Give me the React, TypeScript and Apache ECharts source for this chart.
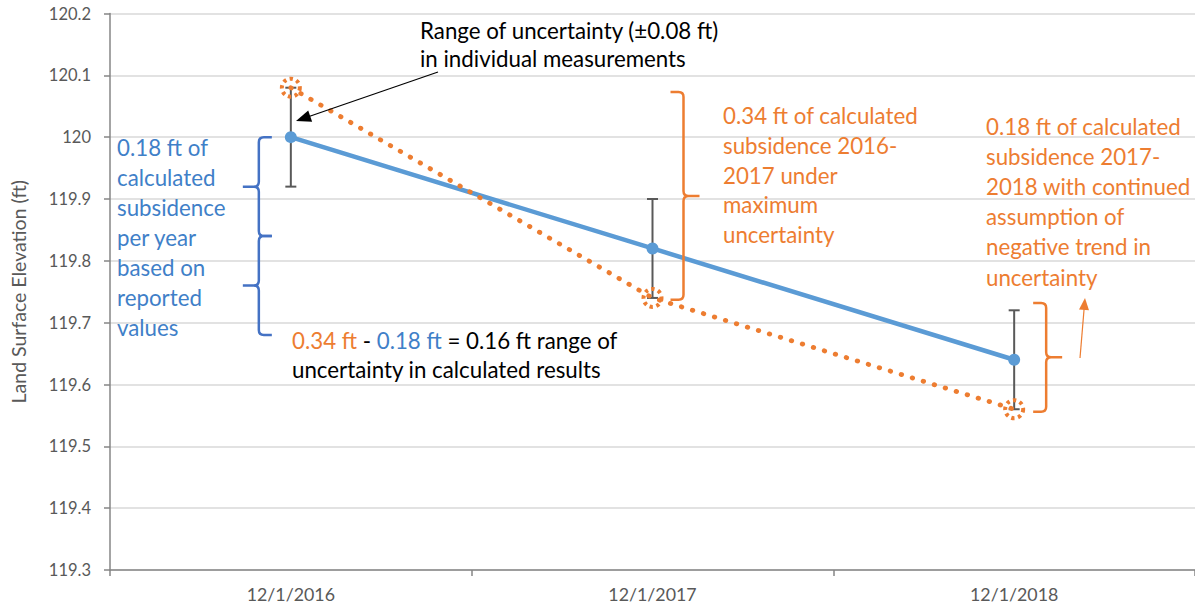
import React, { useEffect, useRef } from "react";
import * as echarts from "echarts";

// ---- data ----
const categories = ["12/1/2016", "12/1/2017", "12/1/2018"];
const reportedValues = [120.0, 119.82, 119.64];
const maxUncertaintyValues = [120.08, 119.74, 119.56];
const errorLow = [119.92, 119.74, 119.56];
const errorHigh = [120.08, 119.9, 119.72];
const yMin = 119.3;
const yMax = 120.2;
const yInterval = 0.1;

// brace annotations: [category index, from value, to value]
const braceCats = [0, 0, 1, 2];
const braceFrom = [120.0, 119.84, 120.073, 119.732];
const braceTo = [119.84, 119.68, 119.737, 119.556];

const BLUE = "#5B9BD5";
const BLUE_TEXT = "#3F80C8";
const BLUE_BRACE = "#4472C4";
const ORANGE = "#ED7D31";
const GRAY = "#595959";
const FONT = "Lato";
const ANN_SIZE = 22.3;

const braceStyle = [
  { color: BLUE_BRACE, dir: -1, dx: -32 },
  { color: BLUE_BRACE, dir: -1, dx: -32 },
  { color: ORANGE, dir: 1, dx: 31 },
  { color: ORANGE, dir: 1, dx: 32 },
];

function bracePath(x: number, top: number, bottom: number, d: number, hook: number, tip: number, r: number) {
  const mid = (top + bottom) / 2;
  return [
    `M${x - d * hook} ${top}`,
    `L${x - d * r} ${top}`,
    `Q${x} ${top} ${x} ${top + r}`,
    `L${x} ${mid - r}`,
    `Q${x} ${mid} ${x + d * r} ${mid}`,
    `L${x + d * tip} ${mid}`,
    `M${x + d * r} ${mid}`,
    `Q${x} ${mid} ${x} ${mid + r}`,
    `L${x} ${bottom - r}`,
    `Q${x} ${bottom} ${x - d * r} ${bottom}`,
    `L${x - d * hook} ${bottom}`,
  ].join(" ");
}

function arrow(x1: number, y1: number, x2: number, y2: number, color: string, len: number, half: number) {
  const dx = x2 - x1;
  const dy = y2 - y1;
  const L = Math.sqrt(dx * dx + dy * dy);
  const ux = dx / L;
  const uy = dy / L;
  const bx = x2 - ux * len;
  const by = y2 - uy * len;
  return [
    {
      type: "line",
      shape: { x1, y1, x2: bx + ux * 2, y2: by + uy * 2 },
      style: { stroke: color, lineWidth: 1.2 },
      z: 100,
    },
    {
      type: "polygon",
      shape: {
        points: [
          [x2, y2],
          [bx - uy * half, by + ux * half],
          [bx + uy * half, by - ux * half],
        ],
      },
      style: { fill: color },
      z: 100,
    },
  ];
}

function textEl(x: number, y: number, text: string, fill: string, lh: number, extra: any = {}) {
  return {
    type: "text",
    x,
    y,
    z: 100,
    style: {
      text,
      fill,
      fontSize: ANN_SIZE,
      fontFamily: FONT,
      lineHeight: lh,
      align: "left",
      verticalAlign: "top",
      ...extra,
    },
  };
}

export default function App() {
  const ref = useRef<HTMLDivElement>(null);
  useEffect(() => {
    if (!ref.current) return;
    const chart = echarts.init(ref.current, null, { renderer: "svg" });
    const option: any = {
      animation: false,
      backgroundColor: "#ffffff",
      grid: { left: 102, top: 13.5, width: 1098, height: 556.5 },
      xAxis: {
        type: "category",
        data: categories,
        boundaryGap: true,
        axisLine: { lineStyle: { color: "#868686", width: 1.5 } },
        axisTick: { show: true, length: 6, lineStyle: { color: "#868686", width: 1.5 } },
        axisLabel: { color: GRAY, fontSize: 17.8, fontFamily: FONT, margin: 15 },
        splitLine: { show: false },
      },
      yAxis: {
        type: "value",
        min: yMin,
        max: yMax,
        interval: yInterval,
        name: "Land Surface Elevation (ft)",
        nameLocation: "middle",
        nameRotate: 90,
        nameGap: 82,
        nameTextStyle: { color: GRAY, fontSize: 19.5, fontFamily: FONT },
        axisLine: { show: true, lineStyle: { color: "#868686", width: 1.5 } },
        axisTick: { show: true, length: 6, lineStyle: { color: "#868686", width: 1.5 } },
        axisLabel: { color: GRAY, fontSize: 16.5, fontFamily: FONT, margin: 19 },
        splitLine: { lineStyle: { color: "#D9D9D9", width: 1.5 } },
      },
      series: [
        {
          type: "custom",
          name: "error",
          z: 1,
          data: categories.map((_, i) => [i, errorLow[i], errorHigh[i]]),
          renderItem: (params: any, api: any) => {
            const lo = api.coord([api.value(0), api.value(1)]);
            const hi = api.coord([api.value(0), api.value(2)]);
            const w = 5.5;
            const st = { stroke: GRAY, lineWidth: 2 };
            return {
              type: "group",
              children: [
                { type: "line", shape: { x1: lo[0], y1: lo[1], x2: hi[0], y2: hi[1] }, style: st },
                { type: "line", shape: { x1: lo[0] - w, y1: lo[1], x2: lo[0] + w, y2: lo[1] }, style: st },
                { type: "line", shape: { x1: hi[0] - w, y1: hi[1], x2: hi[0] + w, y2: hi[1] }, style: st },
              ],
            };
          },
        },
        {
          type: "line",
          name: "reported",
          z: 3,
          data: reportedValues,
          symbol: "circle",
          symbolSize: 12,
          lineStyle: { color: BLUE, width: 4.5 },
          itemStyle: { color: BLUE },
        },
        {
          type: "line",
          name: "max uncertainty",
          z: 4,
          data: maxUncertaintyValues,
          symbol: "circle",
          symbolSize: 18,
          lineStyle: { color: ORANGE, width: 4.8, type: [0.5, 11], cap: "round" },
          itemStyle: {
            color: "rgba(0,0,0,0)",
            borderColor: ORANGE,
            borderWidth: 4,
            borderType: [3.2, 3.6],
          },
        },
        {
          type: "custom",
          name: "braces",
          z: 5,
          data: braceCats.map((c, i) => [c, braceFrom[i], braceTo[i], i]),
          renderItem: (params: any, api: any) => {
            const i = api.value(3);
            const s = braceStyle[i];
            const top = api.coord([api.value(0), api.value(1)]);
            const bot = api.coord([api.value(0), api.value(2)]);
            const x = top[0] + s.dx;
            return {
              type: "path",
              shape: { pathData: bracePath(x, top[1], bot[1], s.dir, 13, 16, 5) },
              style: { stroke: s.color, fill: "none", lineWidth: 2.5 },
            };
          },
        },
      ],
      graphic: [
        textEl(420, 16, "Range of uncertainty (±0.08 ft)\nin individual measurements", "#000000", 28),
        ...arrow(438, 72, 296, 121, "#000000", 15, 6),
        textEl(117, 132, "0.18 ft of\ncalculated\nsubsidence\nper year\nbased on\nreported\nvalues", BLUE_TEXT, 30),
        textEl(723, 101, "0.34 ft of calculated\nsubsidence 2016-\n2017 under\nmaximum\nuncertainty", ORANGE, 29.6),
        textEl(986, 111, "0.18 ft of calculated\nsubsidence 2017-\n2018 with continued\nassumption of\nnegative trend in\nuncertainty", ORANGE, 30.2),
        textEl(292, 326, "{o|0.34 ft} - {b|0.18 ft} = 0.16 ft range of\nuncertainty in calculated results", "#000000", 29, {
          rich: {
            o: { fill: ORANGE, fontSize: ANN_SIZE, fontFamily: FONT, lineHeight: 29 },
            b: { fill: BLUE_TEXT, fontSize: ANN_SIZE, fontFamily: FONT, lineHeight: 29 },
          },
        }),
        ...arrow(1080, 358, 1085, 298, ORANGE, 12, 5),
      ],
    };
    chart.setOption(option);
    return () => chart.dispose();
  }, []);
  return <div ref={ref} style={{ position: "absolute", left: 0, top: 0, width: 1195, height: 609 }} />;
}
